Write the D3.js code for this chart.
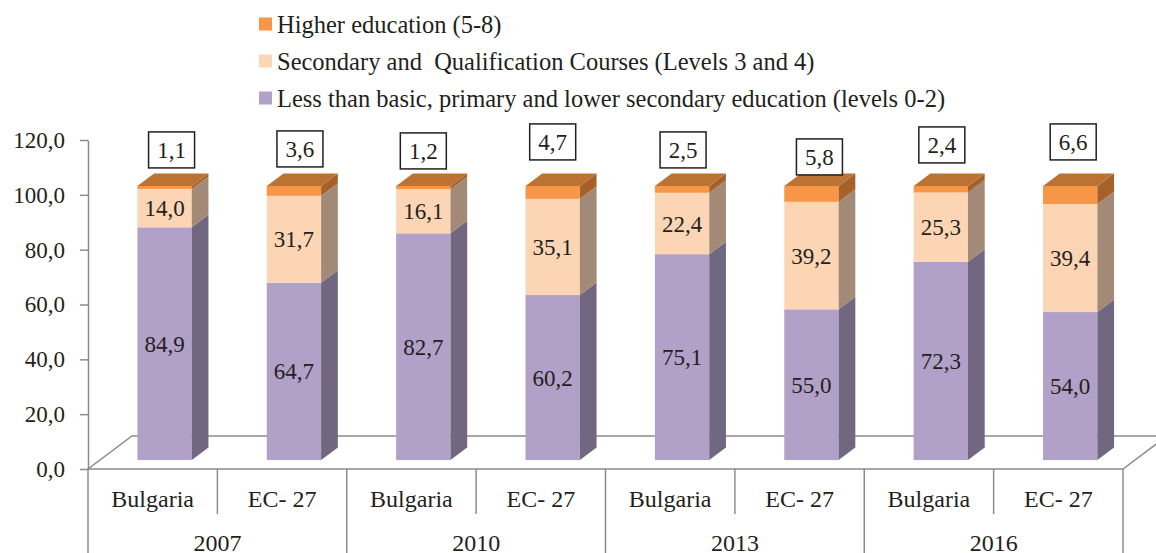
<!DOCTYPE html>
<html>
<head>
<meta charset="utf-8">
<script src="https://cdn.jsdelivr.net/npm/d3@7"></script>
<style>
  body { margin: 0; background: #fff; }
  svg text { font-family: "Liberation Serif", "Times New Roman", serif; fill: #231f20; }
</style>
</head>
<body>
<div id="chart"></div>
<script>
// ---------------- data ----------------
var years = ["2007", "2010", "2013", "2016"];
var countries = ["Bulgaria", "EC- 27"];
var lowerEdu = [84.9, 64.7, 82.7, 60.2, 75.1, 55.0, 72.3, 54.0];       // levels 0-2
var secondaryEdu = [14.0, 31.7, 16.1, 35.1, 22.4, 39.2, 25.3, 39.4];   // levels 3-4
var higherEdu = [1.1, 3.6, 1.2, 4.7, 2.5, 5.8, 2.4, 6.6];             // levels 5-8
var seriesNames = [
  "Higher education (5-8)",
  "Secondary and  Qualification Courses (Levels 3 and 4)",
  "Less than basic, primary and lower secondary education (levels 0-2)"
];
var yTicks = [0, 20, 40, 60, 80, 100, 120];

// ---------------- layout ----------------
var svgWidth = 1156, svgHeight = 553;
var plotLeft = 88, plotRight = 1123, plotBottom = 469, plotTop = 140;
var depth = { x: 44, y: -33 };      // full floor depth
var barFront = 0.27, barDepth = 0.38; // fractions of depth
var barWidthFrac = 0.42;
// where the boxed labels of the top series were dragged to (px, relative to bar top)
var boxNudgeX = [7, 6, 0, 0, 1, 8, 1, 3];
var boxNudgeY = [-36, -37, -35, -44, -36, -29, -41, -44];

var colors = {
  lower:  { front: "#b1a0c7", side: "#716781" },
  second: { front: "#fcd5b4", side: "#a38a76" },
  higher: { front: "#f79646", side: "#a6602a", top: "#bc7233" }
};
var lineGrey = "#8c8c8c";
var fmt = v => d3.format(".1f")(v).replace(".", ",");

var svg = d3.select("#chart").append("svg")
  .attr("width", svgWidth)
  .attr("height", svgHeight);

// scales
var ids = d3.range(years.length * countries.length);
var x = d3.scaleBand().domain(ids).range([plotLeft, plotRight]);
var y = d3.scaleLinear().domain([0, 120]).range([plotBottom, plotTop]);

// floor
var fx = depth.x, fy = depth.y;
svg.append("path")
  .attr("d", `M${plotLeft},${plotBottom}L${plotRight},${plotBottom}L${plotRight + fx},${plotBottom + fy}L${plotLeft + fx},${plotBottom + fy}Z`)
  .attr("fill", "none")
  .attr("stroke", lineGrey)
  .attr("stroke-width", 1.5);

// y axis
var yAxis = d3.axisLeft(y)
  .tickValues(yTicks)
  .tickFormat(fmt)
  .tickSize(8)
  .tickSizeOuter(0)
  .tickPadding(15);
var gy = svg.append("g")
  .attr("transform", `translate(${plotLeft},0)`)
  .call(yAxis);
gy.selectAll("path, line").attr("stroke", lineGrey).attr("stroke-width", 1.5);
gy.selectAll("text")
  .attr("fill", "#231f20")
  .style("font-size", "23px")
  .style("font-family", "Liberation Serif");

// category axis separators
var edges = d3.range(ids.length + 1).map(i => i < ids.length ? x(i) : plotRight);
svg.selectAll("line.sep")
  .data(edges)
  .enter().append("line")
  .attr("class", "sep")
  .attr("x1", d => d).attr("x2", d => d)
  .attr("y1", plotBottom)
  .attr("y2", (d, i) => i % 2 === 0 ? svgHeight : 514)
  .attr("stroke", lineGrey)
  .attr("stroke-width", 1.5);

svg.selectAll("text.country")
  .data(ids)
  .enter().append("text")
  .attr("class", "country")
  .attr("x", d => x(d) + x.bandwidth() / 2)
  .attr("y", 507)
  .attr("text-anchor", "middle")
  .style("font-size", "24px")
  .text(d => countries[d % 2]);

svg.selectAll("text.year")
  .data(years)
  .enter().append("text")
  .attr("class", "year")
  .attr("x", (d, i) => x(i * 2) + x.bandwidth())
  .attr("y", 551)
  .attr("text-anchor", "middle")
  .style("font-size", "24px")
  .text(d => d);

// bars
var bw = x.bandwidth() * barWidthFrac;
var ox = fx * barFront, oy = fy * barFront;   // front face offset
var sx = fx * barDepth, sy = fy * barDepth;   // side depth
var barsG = svg.append("g");

ids.forEach(i => {
  var segs = [
    { v0: 0, v1: lowerEdu[i], c: colors.lower, val: lowerEdu[i] },
    { v0: lowerEdu[i], v1: lowerEdu[i] + secondaryEdu[i], c: colors.second, val: secondaryEdu[i] },
    { v0: lowerEdu[i] + secondaryEdu[i], v1: lowerEdu[i] + secondaryEdu[i] + higherEdu[i], c: colors.higher, val: higherEdu[i] }
  ];
  var x0 = x(i) + (x.bandwidth() - bw) / 2 + ox;
  var x1 = x0 + bw;
  var g = barsG.append("g");
  segs.forEach(s => {
    var yt = y(s.v1) + oy, yb = y(s.v0) + oy;
    g.append("rect")
      .attr("x", x0).attr("y", yt)
      .attr("width", bw).attr("height", yb - yt)
      .attr("fill", s.c.front);
    g.append("path")
      .attr("d", `M${x1},${yt}L${x1 + sx},${yt + sy}L${x1 + sx},${yb + sy}L${x1},${yb}Z`)
      .attr("fill", s.c.side);
  });
  var yTop = y(segs[2].v1) + oy;
  g.append("path")
    .attr("d", `M${x0},${yTop}L${x1},${yTop}L${x1 + sx},${yTop + sy}L${x0 + sx},${yTop + sy}Z`)
    .attr("fill", colors.higher.top);

  // labels inside the two lower segments
  segs.slice(0, 2).forEach(s => {
    g.append("text")
      .attr("x", (x0 + x1) / 2)
      .attr("y", (y(s.v0) + y(s.v1)) / 2 + oy)
      .attr("dy", "0.35em")
      .attr("text-anchor", "middle")
      .style("font-size", "23px")
      .text(fmt(s.val));
  });

  // boxed label for the top series
  var bx = (x0 + x1) / 2 + boxNudgeX[i], by = yTop + boxNudgeY[i];
  g.append("rect")
    .attr("x", bx - 23).attr("y", by - 18)
    .attr("width", 46).attr("height", 36)
    .attr("fill", "#fff")
    .attr("stroke", "#231f20")
    .attr("stroke-width", 1.5);
  g.append("text")
    .attr("x", bx).attr("y", by)
    .attr("dy", "0.35em")
    .attr("text-anchor", "middle")
    .style("font-size", "23px")
    .text(fmt(higherEdu[i]));
});

// legend
var legendColors = [colors.higher.front, colors.second.front, colors.lower.front];
var legend = svg.selectAll("g.legend")
  .data(seriesNames)
  .enter().append("g")
  .attr("class", "legend")
  .attr("transform", (d, i) => `translate(259, ${24 + i * 37})`);
legend.append("rect")
  .attr("x", 0).attr("y", -6.5)
  .attr("width", 13).attr("height", 13)
  .attr("fill", (d, i) => legendColors[i]);
legend.append("text")
  .attr("x", 18)
  .attr("dy", "0.35em")
  .style("font-size", "24.5px")
  .style("white-space", "pre")
  .text(d => d);
</script>
</body>
</html>
